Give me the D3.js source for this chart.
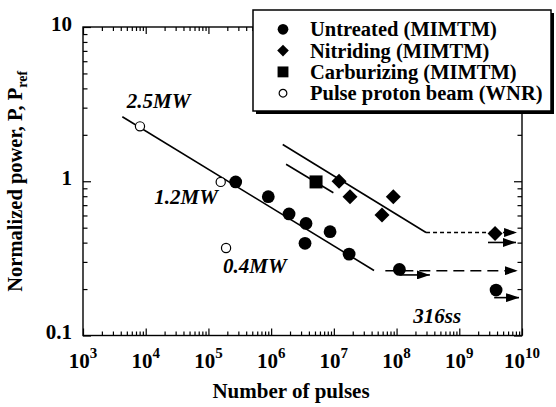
<!DOCTYPE html>
<html>
<head>
<meta charset="utf-8">
<script src="https://cdn.jsdelivr.net/npm/d3@7"></script>
<style>
  body { margin: 0; background: #fff; }
</style>
</head>
<body>
<div id="chart"></div>
<script>
// data (N = number of pulses, P = normalized power)
var untreatedN = [2.72e5, 9.0e5, 1.93e6, 3.6e6, 3.47e6, 8.7e6, 1.75e7, 1.11e8, 3.86e9];
var untreatedP = [0.99, 0.794, 0.614, 0.533, 0.396, 0.471, 0.337, 0.268, 0.197];
var nitridingN = [1.21e7, 1.81e7, 5.86e7, 8.87e7, 3.72e9];
var nitridingP = [1.0, 0.794, 0.604, 0.794, 0.459];
var carburizingN = [5.2e6];
var carburizingP = [0.99];
var wnrN = [8.1e3, 1.57e5, 1.91e5];
var wnrP = [2.27, 0.99, 0.369];

// fitted lines and run-outs
var fitUntreatedN = [4.24e3, 4.37e7];
var fitUntreatedP = [2.62, 0.264];
var fitNitridingN = [1.53e6, 2.95e8];
var fitNitridingP = [1.73, 0.465];
var fitCarburizingN = [1.73e6, 9.82e6];
var fitCarburizingP = [1.29, 0.843];
var runoutUntreatedN = [6.62e7, 8.55e9];
var runoutUntreatedP = [0.263, 0.263];
var runoutNitridingN = [2.95e8, 8.34e9];
var runoutNitridingP = [0.465, 0.465];

// short arrows below run-out specimens
var arrowStartN = [1.11e8, 3.6e9, 2.87e9];
var arrowEndN = [3.4e8, 8.97e9, 8.03e9];
var arrowP = [0.247, 0.176, 0.401];

// text annotations
var noteText = ['2.5MW', '1.2MW', '0.4MW', '316ss'];
var noteN = [4.98e3, 1.37e4, 1.71e5, 1.85e8];
var noteP = [2.97, 0.712, 0.256, 0.121];

var xMajor = [1e3, 1e4, 1e5, 1e6, 1e7, 1e8, 1e9, 1e10];
var xLabelExp = ['3', '4', '5', '6', '7', '8', '9', '10'];
var yMajor = [0.1, 1, 10];
var yLabels = ['0.1', '1', '10'];

var legendNames = ['Untreated (MIMTM)', 'Nitriding (MIMTM)', 'Carburizing (MIMTM)', 'Pulse proton beam (WNR)'];

var serif = '"Liberation Serif", "Times New Roman", Times, "DejaVu Serif", serif';

// size globals
var width = 556;
var height = 407;
var margin = { top: 27, right: 34, bottom: 71.5, left: 83 };
var x0 = margin.left, x1 = width - margin.right;
var y0 = height - margin.bottom, y1 = margin.top;

var svg = d3.select('#chart')
    .append('svg')
    .attr('width', width)
    .attr('height', height)
    .attr('font-family', serif)
    .attr('font-weight', 'bold');

var x = d3.scaleLog().domain([1e3, 1e10]).range([x0, x1]);
var y = d3.scaleLog().domain([0.1, 10]).range([y0, y1]);

function minors(from, to) {
    var out = [];
    for (var d = from; d < to; d++) {
        for (var k = 2; k <= 9; k++) out.push(k * Math.pow(10, d));
    }
    return out;
}
var xMinor = minors(3, 10);
var yMinor = minors(-1, 1);

// ticks on all four sides, pointing inward
function tickAxis(axis, values, size, transform) {
    var g = svg.append('g')
        .attr('transform', transform)
        .call(axis.tickValues(values).tickSize(-size).tickFormat(''));
    g.select('.domain').remove();
    g.selectAll('text').remove();
    g.selectAll('line').attr('stroke', '#000').attr('stroke-width', 1.2);
}
tickAxis(d3.axisBottom(x), xMajor, 7, 'translate(0,' + y0 + ')');
tickAxis(d3.axisBottom(x), xMinor, 4, 'translate(0,' + y0 + ')');
tickAxis(d3.axisTop(x), xMajor, 7, 'translate(0,' + y1 + ')');
tickAxis(d3.axisTop(x), xMinor, 4, 'translate(0,' + y1 + ')');
tickAxis(d3.axisLeft(y), yMajor, 8, 'translate(' + x0 + ',0)');
tickAxis(d3.axisLeft(y), yMinor, 4.5, 'translate(' + x0 + ',0)');
tickAxis(d3.axisRight(y), yMajor, 8, 'translate(' + x1 + ',0)');
tickAxis(d3.axisRight(y), yMinor, 4.5, 'translate(' + x1 + ',0)');

// frame
svg.append('rect')
    .attr('x', x0).attr('y', y1)
    .attr('width', x1 - x0).attr('height', y0 - y1)
    .attr('fill', 'none')
    .attr('stroke', '#000')
    .attr('stroke-width', 1.4);

// tick labels
var xl = svg.append('g').selectAll('text')
    .data(xMajor)
    .enter()
    .append('text')
    .attr('x', d => x(d))
    .attr('y', y0 + 32.5)
    .attr('text-anchor', 'middle')
    .attr('font-size', 21);
xl.append('tspan').text('10');
xl.append('tspan')
    .attr('dy', -10)
    .attr('font-size', 15)
    .text((d, i) => xLabelExp[i]);

svg.append('g').selectAll('text')
    .data(yMajor)
    .enter()
    .append('text')
    .attr('x', x0 - 11)
    .attr('y', d => y(d) + 3.5)
    .attr('text-anchor', 'end')
    .attr('font-size', 21)
    .text((d, i) => yLabels[i]);

// axis titles
svg.append('text')
    .attr('x', 291)
    .attr('y', 398)
    .attr('text-anchor', 'middle')
    .attr('font-size', 21)
    .text('Number of pulses');

var yt = svg.append('text')
    .attr('transform', 'translate(22,' + ((y0 + y1) / 2) + ') rotate(-90)')
    .attr('text-anchor', 'middle')
    .attr('font-size', 20.5);
yt.append('tspan').text('Normalized power, P, P');
yt.append('tspan').attr('dy', 5).attr('font-size', 14).text('ref');

// lines
var line = d3.line().x(d => x(d[0])).y(d => y(d[1]));
function drawLine(ns, ps, dash, arrow) {
    var p = svg.append('path')
        .datum(d3.zip(ns, ps))
        .attr('d', line)
        .attr('fill', 'none')
        .attr('stroke', '#000')
        .attr('stroke-width', 1.6);
    if (dash) p.attr('stroke-dasharray', dash);
    if (arrow) p.attr('marker-end', 'url(#arrow)');
    return p;
}

svg.append('defs')
    .append('marker')
    .attr('id', 'arrow')
    .attr('markerUnits', 'userSpaceOnUse')
    .attr('viewBox', '0 -4.5 13 9')
    .attr('refX', 13)
    .attr('refY', 0)
    .attr('markerWidth', 13)
    .attr('markerHeight', 9)
    .attr('orient', 'auto')
    .append('path')
    .attr('d', 'M0,-4.5L13,0L0,4.5Z')
    .attr('fill', '#000');

drawLine(fitUntreatedN, fitUntreatedP);
drawLine(fitNitridingN, fitNitridingP);
drawLine(fitCarburizingN, fitCarburizingP);
drawLine(runoutUntreatedN, runoutUntreatedP, '11,6', true);
drawLine(runoutNitridingN, runoutNitridingP, '4,3', true);
arrowStartN.forEach(function (n, i) {
    drawLine([n, arrowEndN[i]], [arrowP[i], arrowP[i]], null, true);
});

// points
function drawPoints(ns, ps, kind) {
    var sel = svg.append('g').selectAll('path')
        .data(d3.zip(ns, ps))
        .enter()
        .append('path')
        .attr('transform', function (d) {
            var t = 'translate(' + x(d[0]) + ',' + y(d[1]) + ')';
            return kind === 'diamond' ? t + ' rotate(45)' : t;
        });
    styleMarker(sel, kind, 1);
}
function styleMarker(sel, kind, s) {
    if (kind === 'circle') {
        sel.attr('d', d3.symbol().type(d3.symbolCircle).size(Math.PI * 6.4 * 6.4 * s))
            .attr('fill', '#000');
    } else if (kind === 'diamond') {
        sel.attr('d', d3.symbol().type(d3.symbolSquare).size(10.6 * 10.6 * s))
            .attr('fill', '#000');
    } else if (kind === 'square') {
        sel.attr('d', d3.symbol().type(d3.symbolSquare).size(13 * 13 * s))
            .attr('fill', '#000');
    } else {
        sel.attr('d', d3.symbol().type(d3.symbolCircle).size(Math.PI * 4.6 * 4.6 * s))
            .attr('fill', '#fff')
            .attr('stroke', '#000')
            .attr('stroke-width', 1.2);
    }
}
drawPoints(wnrN, wnrP, 'open');
drawPoints(untreatedN, untreatedP, 'circle');
drawPoints(nitridingN, nitridingP, 'diamond');
drawPoints(carburizingN, carburizingP, 'square');

// annotations
svg.append('g').selectAll('text')
    .data(noteText)
    .enter()
    .append('text')
    .attr('x', (d, i) => x(noteN[i]))
    .attr('y', (d, i) => y(noteP[i]))
    .attr('font-size', 21)
    .attr('font-style', 'italic')
    .text(d => d);

// legend
var legend = svg.append('g').attr('transform', 'translate(253,10)');
legend.append('rect')
    .attr('x', 3).attr('y', 3)
    .attr('width', 298).attr('height', 101)
    .attr('fill', '#000');
legend.append('rect')
    .attr('width', 298).attr('height', 101)
    .attr('fill', '#fff')
    .attr('stroke', '#000')
    .attr('stroke-width', 1.5);

var kinds = ['circle', 'diamond', 'square', 'open'];
var rows = legend.selectAll('g.row')
    .data(legendNames)
    .enter()
    .append('g')
    .attr('class', 'row')
    .attr('transform', (d, i) => 'translate(0,' + (19.3 + i * 21.3) + ')');
rows.each(function (d, i) {
    var m = d3.select(this).append('path')
        .attr('transform', 'translate(30,0)' + (kinds[i] === 'diamond' ? ' rotate(45)' : ''));
    styleMarker(m, kinds[i], kinds[i] === 'diamond' ? 0.6 : 0.7);
});
rows.append('text')
    .attr('x', 57)
    .attr('y', 7)
    .attr('font-size', 20.5)
    .text(d => d);
</script>
</body>
</html>
